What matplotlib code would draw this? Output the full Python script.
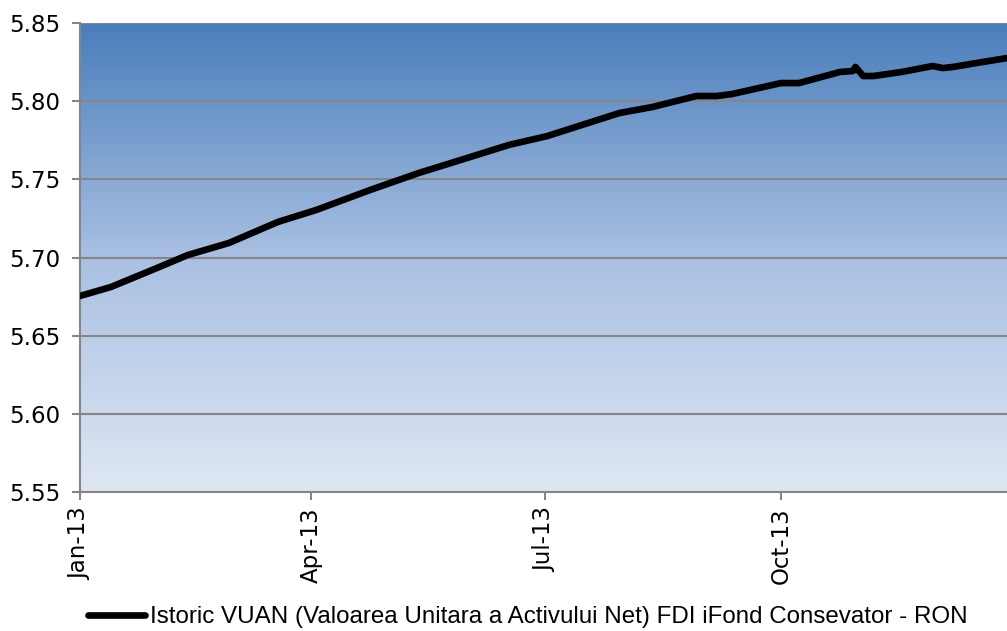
import numpy as np
import pandas as pd
import matplotlib
matplotlib.use("Agg")
import matplotlib.pyplot as plt
from matplotlib.colors import LinearSegmentedColormap

# values (day-of-year offsets from 2013-01-01)
days = [0, 12, 30, 42, 58, 77, 92, 113, 132, 152, 167, 182, 210, 223, 240,
        248, 254, 273, 280, 296, 301, 302, 305, 309, 320, 332, 336, 340, 349, 361]
vuan = [5.6754, 5.6811, 5.6933, 5.7016, 5.7093, 5.7227, 5.7304, 5.7432, 5.7541,
        5.7643, 5.7720, 5.7777, 5.7924, 5.7963, 5.8033, 5.8033, 5.8046, 5.8116,
        5.8116, 5.8187, 5.8193, 5.8219, 5.8161, 5.8161, 5.8187, 5.8225, 5.8212,
        5.8219, 5.8244, 5.8276]
tick_dates = ["2013-01-01", "2013-04-01", "2013-07-01", "2013-10-01"]
tick_labels = ["Jan-13", "Apr-13", "Jul-13", "Oct-13"]
series_name = "Istoric VUAN (Valoarea Unitara a Activului Net) FDI iFond Consevator - RON"

dates = pd.Timestamp("2013-01-01") + pd.to_timedelta(days, unit="D")

fig = plt.figure(figsize=(10.07, 6.31), dpi=100)
ax = fig.add_axes([0.0794, 0.2203, 0.9206, 0.7432])

# gradient background, dark blue on top
cmap = LinearSegmentedColormap.from_list("bg", ["#4a7ebb", "#a9c0e2", "#dfe7f3"])
grad = np.linspace(0, 1, 256).reshape(-1, 1)
ax.imshow(grad, cmap=cmap, aspect="auto", extent=[0, 1, 0, 1],
          transform=ax.transAxes, zorder=0)

ax.plot(dates, vuan, color="black", lw=4.8, solid_capstyle="round",
        solid_joinstyle="round", zorder=3, label=series_name)

yt = np.arange(5.55, 5.851, 0.05)
ax.set_ylim(5.55, 5.85)
ax.set_yticks(yt)
ax.set_yticklabels([f"{v:.2f}" for v in yt])
ax.set_xlim(pd.Timestamp("2013-01-01"), pd.Timestamp("2013-12-28"))
ax.set_xticks(pd.to_datetime(tick_dates))
ax.set_xticklabels(tick_labels, rotation=90)

ax.grid(axis="y", color="#868686", lw=1.5, zorder=1)
ax.set_axisbelow(False)
for s in ["top", "right"]:
    ax.spines[s].set_visible(False)
for s in ["left", "bottom"]:
    ax.spines[s].set_color("#868686")
    ax.spines[s].set_linewidth(1.5)
ax.tick_params(axis="y", length=6, width=1.5, color="#868686", labelsize=16.5, pad=8)
ax.tick_params(axis="x", length=6, width=1.5, color="#868686", labelsize=16.5, pad=5)

fig.legend(loc="center", bbox_to_anchor=(0.5243, 0.022), frameon=False,
           handlelength=2.36, handletextpad=0.2, borderpad=0,
           prop={"family": ["Liberation Sans", "DejaVu Sans"], "size": 17.4})

fig.savefig("out.png", dpi=100)
